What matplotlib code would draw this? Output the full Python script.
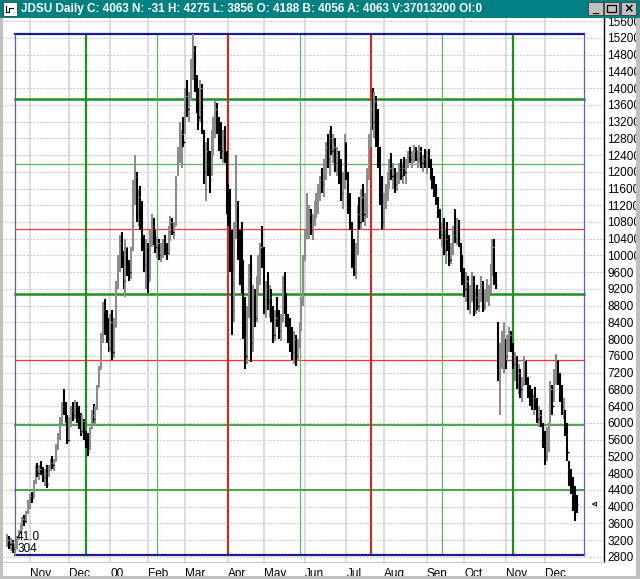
import matplotlib
matplotlib.use("Agg")
import matplotlib.pyplot as plt
from matplotlib.patches import Rectangle
import numpy as np
import pandas as pd
from pandas.tseries.offsets import CustomBusinessDay

plt.rcParams['font.family'] = ['Liberation Sans Narrow', 'Liberation Sans', 'DejaVu Sans']

# trading calendar (market holidays in the span)
start_date = '1999-10-14'
holidays = ['1999-11-25', '1999-12-24', '2000-01-17', '2000-02-21', '2000-04-21',
            '2000-05-29', '2000-07-04', '2000-09-04', '2000-11-23', '2000-12-25']

# daily bars (price x 100)
highs = [
    3350, 3300, 3250, 3200, 3100, 3300, 3450, 3600, 3750, 3800,
    3900, 4150, 4300, 4350, 4650, 5000, 5050, 5000, 5100, 4950,
    4900, 5000, 5000, 5150, 5200, 5150, 5500, 5750, 6150, 6500,
    6800, 6500, 6200, 6150, 6400, 6500, 6550, 6500, 6400, 6250,
    6200, 6100, 5800, 5750, 5900, 6300, 6450, 6400, 6900, 7350,
    8150, 8900, 8950, 8700, 8500, 8600, 8700, 8500, 9400, 10000,
    10500, 10550, 10100, 10400, 10200, 9900, 10200, 11800, 12400, 12000,
    11600, 11650, 11300, 10500, 10400, 10300, 10600, 11000, 10900, 10600,
    10450, 10400, 10300, 10400, 10500, 10300, 10700, 10950, 10900, 10800,
    11900, 12600, 13200, 13000, 13300, 14000, 14200, 13900, 14700, 15300,
    15000, 14300, 14000, 14200, 14100, 13000, 12700, 12800, 12500, 13000,
    13300, 13700, 13650, 13300, 13200, 13000, 13100, 12500, 11700, 11600,
    10600, 10800, 12400, 11300, 10600, 10800, 9900, 9000, 8800, 9800,
    10000, 9300, 9200, 9500, 10000, 10300, 10700, 10200, 9400, 9600,
    9300, 9200, 8800, 8700, 9000, 8700, 8600, 9500, 9600, 9100,
    8600, 8500, 8300, 8200, 8100, 8000, 8400, 9000, 10000, 10600,
    11500, 11200, 11100, 11000, 11300, 11500, 11700, 11900, 12100, 12300,
    12700, 12900, 13000, 13100, 12900, 12800, 12600, 12500, 12300, 12000,
    12900, 12700, 12000, 11500, 10800, 10400, 10300, 11200, 11400, 11600,
    11700, 11500, 12100, 12900, 13700, 14000, 13900, 13800, 13500, 12600,
    11900, 11500, 11700, 12000, 12300, 12450, 12200, 12100, 12000, 12200,
    12300, 12200, 12350, 12300, 12500, 12600, 12500, 12650, 12600, 12500,
    12650, 12600, 12400, 12550, 12500, 12550, 12300, 12100, 11900, 11700,
    11400, 11100, 10800, 10900, 10600, 10800, 10500, 10300, 10700, 11100,
    10900, 10850, 10300, 10000, 9700, 9600, 9500, 9300, 9600, 9500,
    9200, 9300, 9200, 9500, 9400, 9200, 9450, 9300, 9800, 10400,
    10400, 9600, 8400, 7900, 8200, 8400, 8000, 8100, 8300, 8200,
    7900, 7700, 7600, 7400, 7300, 7100, 7600, 7500, 7100, 6900,
    6800, 6700, 6850, 6600, 6400, 6300, 6000, 5800, 5900, 6000,
    7000, 6900, 7300, 7650, 7500, 7200, 6900, 6600, 6300, 6000,
    5100, 4900, 4700, 4500, 4275,
]
lows = [
    3050, 3000, 2950, 2900, 2840, 3000, 3200, 3350, 3450, 3550,
    3600, 3850, 3950, 4100, 4200, 4550, 4700, 4650, 4750, 4600,
    4500, 4450, 4700, 4850, 4900, 4850, 5100, 5350, 5600, 5950,
    6200, 6000, 5500, 5550, 5900, 6050, 6100, 6000, 5850, 5700,
    5750, 5600, 5400, 5200, 5350, 5850, 6000, 5950, 6300, 6850,
    7300, 7900, 8100, 7900, 7700, 7700, 7500, 7550, 8300, 9200,
    9600, 9700, 9200, 9000, 9500, 9400, 9450, 10100, 11200, 10800,
    10700, 10600, 10100, 9600, 9200, 9100, 9400, 10200, 10250, 10050,
    9950, 9900, 9850, 9950, 10000, 9900, 10000, 10350, 10500, 10400,
    10700, 11900, 12200, 12100, 12600, 12900, 13300, 13200, 13700, 14200,
    13900, 13400, 13000, 13200, 12900, 11700, 11300, 11900, 11500, 11900,
    12400, 12800, 12900, 12500, 12300, 12200, 12200, 11000, 10700, 9600,
    8100, 8400, 10400, 9900, 9300, 9100, 8000, 7300, 7400, 8500,
    7450, 7700, 8300, 8400, 9100, 9300, 9700, 8600, 8500, 8700,
    8500, 8400, 7900, 7950, 8300, 8000, 7950, 8400, 8600, 8300,
    7900, 7700, 7500, 7400, 7350, 7500, 7800, 8200, 8800, 9900,
    10400, 10400, 10500, 10380, 10700, 10900, 11000, 11300, 11500, 11400,
    11800, 12100, 11900, 12400, 12200, 12000, 11900, 11700, 11300, 11100,
    11600, 11800, 11000, 10600, 9700, 9500, 9450, 10000, 10600, 10600,
    10800, 10700, 10900, 11800, 12600, 13000, 12800, 12600, 12100, 11200,
    10600, 10600, 11100, 11300, 11600, 11800, 11600, 11500, 11550, 11700,
    11800, 11700, 11900, 11700, 12100, 12200, 12100, 12200, 12250, 12100,
    12200, 12100, 12000, 12100, 11950, 12100, 11800, 11600, 11400, 11200,
    10900, 10400, 10200, 10000, 9800, 10100, 9750, 9800, 10000, 10300,
    10250, 10200, 9600, 9300, 9000, 8900, 8700, 8600, 8900, 8550,
    8600, 8700, 8650, 8900, 8650, 8700, 8900, 8800, 9100, 9500,
    9300, 9200, 7000, 6200, 7300, 7200, 7300, 7500, 7700, 7700,
    7300, 7000, 6800, 6700, 6600, 6500, 6900, 6900, 6600, 6400,
    6300, 6200, 6300, 6000, 5900, 5900, 5400, 5000, 5100, 5300,
    6000, 6200, 6500, 6900, 6900, 6500, 6200, 6100, 5700, 5100,
    4500, 4300, 3900, 3650, 3856,
]
closes = [
    3200, 3100, 3150, 2980, 3000, 3250, 3400, 3550, 3700, 3650,
    3850, 4100, 4250, 4200, 4600, 4900, 4800, 4900, 4800, 4700,
    4800, 4550, 4900, 5050, 5000, 5100, 5450, 5650, 6100, 6400,
    6300, 6100, 5600, 6000, 6300, 6200, 6450, 6100, 6000, 5800,
    6050, 5700, 5500, 5300, 5850, 6200, 6100, 6350, 6850, 7300,
    8000, 8700, 8300, 8100, 7800, 8400, 7700, 8300, 9300, 9800,
    10300, 9800, 9400, 10200, 9700, 9600, 10100, 11500, 11900, 11000,
    11400, 10700, 10300, 9800, 10200, 9400, 10500, 10700, 10400, 10200,
    10300, 10000, 10100, 10200, 10100, 10050, 10600, 10800, 10550, 10700,
    11700, 12400, 12500, 12900, 12700, 13800, 13500, 13800, 14500, 14900,
    14100, 13600, 13300, 14000, 13000, 12000, 12500, 12000, 11800, 12700,
    13100, 13500, 13000, 12800, 12500, 12900, 12300, 11200, 11000, 9900,
    8700, 10500, 11200, 10100, 9500, 9300, 8300, 7600, 8600, 9500,
    7900, 9100, 8500, 9300, 9800, 10200, 9900, 8800, 9200, 8900,
    9000, 8600, 8100, 8500, 8400, 8200, 8400, 9300, 8800, 8500,
    8000, 7900, 7700, 8000, 7600, 7900, 8300, 8900, 9900, 10500,
    10700, 11000, 10600, 10900, 11200, 11300, 11600, 11800, 11700, 12200,
    12600, 12300, 12800, 12500, 12600, 12200, 12400, 11800, 11500, 11800,
    12700, 11900, 11200, 10800, 9900, 9600, 10100, 11000, 10800, 11400,
    11000, 11300, 11900, 12700, 13500, 13200, 13700, 12800, 12300, 11400,
    10800, 11300, 11500, 11900, 12100, 11900, 12000, 11700, 11900, 12100,
    11900, 12100, 12000, 12200, 12400, 12300, 12400, 12500, 12300, 12400,
    12500, 12200, 12300, 12200, 12400, 12200, 11900, 11700, 11500, 11300,
    11000, 10500, 10600, 10100, 10400, 10200, 9900, 10200, 10500, 10400,
    10800, 10300, 9700, 9400, 9200, 9400, 8800, 9100, 9400, 8700,
    9000, 8800, 9100, 9300, 8800, 9100, 9200, 9200, 9700, 10200,
    9400, 9300, 7200, 7500, 7700, 8200, 7600, 7900, 8100, 7800,
    7400, 7600, 6900, 7200, 6800, 6900, 7500, 7000, 6700, 6500,
    6400, 6600, 6400, 6100, 6200, 6000, 5500, 5200, 5700, 5900,
    6800, 6400, 7100, 7500, 7000, 6700, 6400, 6500, 5900, 5300,
    4700, 4500, 4100, 4094, 4063,
]
last_open = 4188
last_bid, last_ask = 4056, 4063
last_volume = 37013200
box_bars = 304  # width of the Gann box in bars

highs = np.array(highs)
lows = np.array(lows)
closes = np.array(closes)
n = len(highs)
idx = np.arange(n)
dates = pd.date_range(start_date, periods=n, freq=CustomBusinessDay(holidays=holidays))

W, H = 640, 579
fig = plt.figure(figsize=(W / 100, H / 100), dpi=100, facecolor='white')
ax = fig.add_axes([3 / W, 17 / H, 601 / W, 544 / H])
ax.set_xlim(-2.4, 318.6)
ax.set_ylim(2680, 15672)

# grid: dotted price lines, month separators
yticks = np.arange(2800, 15601, 400)
for v in yticks:
    ax.axhline(v, color='#c4c4c4', lw=0.8, ls=(0, (1.5, 1.5)), zorder=0)
month_starts = [i for i in range(1, n) if dates[i].month != dates[i - 1].month]
month_labels = ['%02d' % (dates[i].year % 100) if dates[i].month == 1 else dates[i].strftime('%b')
                for i in month_starts]
for i in month_starts:
    ax.axvline(i, color='#d6d6d6', lw=1.2, zorder=0)

# Gann box from the lowest low over box_bars bars, split in eighths
lo_i = int(np.argmin(lows))
lo, hi = lows.min(), highs.max()
x0, x1 = lo_i, lo_i + box_bars
h_styles = {1: ('#3ca03c', 1.3), 2: ('#3ca03c', 1.3), 3: ('#ff3030', 0.9), 4: ('#1e901e', 1.8),
            5: ('#ff3030', 0.9), 6: ('#5cb85c', 0.9), 7: ('#1e901e', 1.8)}
v_styles = {1: ('#1e901e', 1.6), 2: ('#5cb85c', 0.9), 3: ('#e8201c', 1.5), 4: ('#5cb85c', 0.9),
            5: ('#e8201c', 1.5), 6: ('#5cb85c', 0.9), 7: ('#1e901e', 1.6)}
for k, (c, lw) in h_styles.items():
    lev = lo + k * (hi - lo) / 8
    ax.plot([x0, x1], [lev, lev], color=c, lw=lw, zorder=1)
for k, (c, lw) in v_styles.items():
    xk = x0 + k * box_bars / 8
    ax.plot([xk, xk], [lo, hi], color=c, lw=lw, zorder=1)
ax.plot([x0, x1], [hi, hi], color='#1c1c8c', lw=1.6, zorder=1)
ax.plot([x0, x1], [lo, lo], color='#1c1c8c', lw=1.6, zorder=1)
ax.plot([x0, x0], [lo, hi], color='#5a5ac8', lw=0.9, zorder=1)
ax.plot([x1, x1], [lo, hi], color='#5a5ac8', lw=0.9, zorder=1)

# OHLC bars: black on down days, gray on up days
prev = np.concatenate([[closes[0]], closes[:-1]])
cols = np.where(closes < prev, '#000000', '#8c8c8c')
ax.vlines(idx, lows, highs, colors=cols, lw=1.5, zorder=3)
ax.hlines(closes, idx, idx + 0.7, colors=cols, lw=1.0, zorder=3)

ax.annotate('%.1f' % ((hi - lo) / box_bars), xy=(x0, lo), xytext=(1.5, 13),
            textcoords='offset points', fontsize=8.5, va='center', ha='left', zorder=4)
ax.annotate('%d' % box_bars, xy=(x0, lo), xytext=(1.5, 4.5),
            textcoords='offset points', fontsize=8.5, va='center', ha='left', zorder=4)

# last close marker on the right margin
ax.annotate('', xy=(n + 5.5, closes[-1]), xytext=(n + 10.5, closes[-1]),
            arrowprops=dict(arrowstyle='-|>', color='black', lw=0.7,
                            mutation_scale=7, fc='white'), zorder=5)

ax.yaxis.tick_right()
ax.set_yticks(yticks)
ax.set_yticklabels([str(v) for v in yticks])
ax.tick_params(axis='y', length=0, pad=2.5, labelsize=8.5)
ax.set_xticks(month_starts)
ax.set_xticklabels(month_labels, ha='left')
ax.tick_params(axis='x', length=0, pad=4, labelsize=8.5)
for s in ['top', 'left']:
    ax.spines[s].set_visible(False)
ax.spines['bottom'].set_color('#c8c8c8')
ax.spines['right'].set_color('black')
ax.spines['right'].set_linewidth(1.0)

# window chrome: title bar, buttons, frame
def px_rect(x, y, w, h, **kw):
    fig.patches.append(Rectangle((x / W, 1 - (y + h) / H), w / W, h / H,
                                 transform=fig.transFigure, **kw))

px_rect(0, 0, W, 18, facecolor='#008080', edgecolor='none')
px_rect(0, 18, 3, H - 18, facecolor='#c0c0c0', edgecolor='none')
px_rect(636, 18, 4, H - 18, facecolor='#c0c0c0', edgecolor='none')
px_rect(0, 576, W, 3, facecolor='#c0c0c0', edgecolor='none')
px_rect(3, 2, 14, 14, facecolor='white', edgecolor='#404040', lw=0.6)
for bx in (588, 604, 621):
    px_rect(bx, 2, 15, 13, facecolor='#c0c0c0', edgecolor='#404040', lw=0.6)
fig.text(595.5 / W, 1 - 10 / H, '_', ha='center', va='center', fontsize=8, weight='bold')
px_rect(607, 5, 9, 7, facecolor='none', edgecolor='black', lw=0.9)
fig.text(628.5 / W, 1 - 8.5 / H, '×', ha='center', va='center', fontsize=9, weight='bold',
         family='DejaVu Sans')
fig.lines.append(plt.Line2D([6 / W, 6 / W, 9 / W, 9 / W, 13 / W], [1 - 6 / H, 1 - 12 / H, 1 - 12 / H, 1 - 8 / H, 1 - 8 / H],
                            transform=fig.transFigure, color='black', lw=0.8))

title = 'JDSU Daily C: %d N: %d H: %d L: %d O: %d B: %d A: %d V:%d OI:0' % (
    closes[-1], closes[-1] - closes[-2], highs[-1], lows[-1], last_open, last_bid, last_ask, last_volume)
fig.text(21 / W, 1 - 9 / H, title, color='white', fontsize=8.5, weight='bold',
         family=['Liberation Sans', 'DejaVu Sans'], va='center', ha='left')

fig.savefig('out.png', dpi=100, facecolor='white')
